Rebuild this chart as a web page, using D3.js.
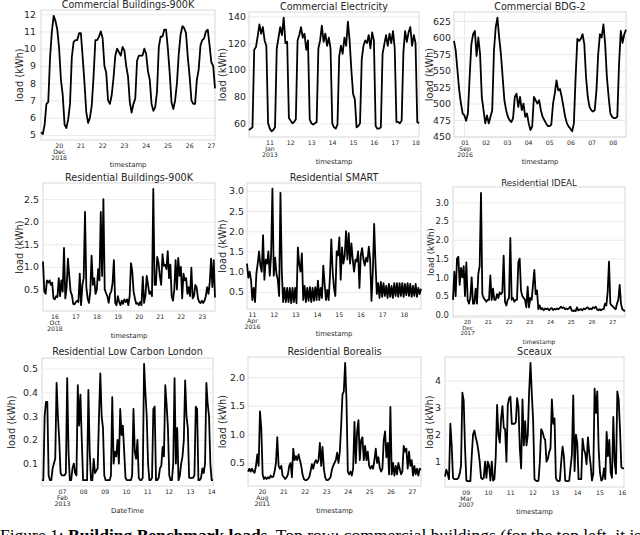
<!DOCTYPE html>
<html lang="en">
<head>
    <meta charset="UTF-8">
    <title>Building loads</title>
    <style>
        body { margin: 0; background: #fff; }
        svg { display: block; font-family: 'DejaVu Sans', sans-serif; }
    </style>
</head>
<body>
    <svg id="chart" width="640" height="535"></svg>

    <script src="https://d3js.org/d3.v7.min.js"></script>
    <script>
        // ---- data, evenly spaced between start and end ----
        const titles = ['Commercial Buildings-900K', 'Commercial Electricity', 'Commercial BDG-2',
                        'Residential Buildings-900K', 'Residential SMART', 'Residential IDEAL',
                        'Residential Low Carbon London', 'Residential Borealis', 'Sceaux'];
        const xLabels = ['timestamp', 'timestamp', 'timestamp', 'timestamp', 'timestamp', 'timestamp',
                         'DateTime', 'timestamp', 'timestamp'];
        const starts = ['2018-12-19T04:30Z', '2013-01-10T00:30Z', '2016-08-31T12:00Z',
                        '2018-10-15T11:00Z', '2016-04-10T18:30Z', '2017-12-19T07:40Z',
                        '2013-02-06T01:30Z', '2011-08-19T08:30Z', '2007-03-08T01:45Z'];
        const ends = ['2018-12-27T04:30Z', '2013-01-18T04:00Z', '2016-09-08T15:00Z',
                      '2018-10-23T15:00Z', '2016-04-18T19:00Z', '2017-12-27T14:50Z',
                      '2013-02-14T02:00Z', '2011-08-27T10:00Z', '2007-03-16T02:30Z'];
        const yTicks = [
            [5, 6, 7, 8, 9, 10, 11, 12],
            [60, 80, 100, 120, 140],
            [450, 475, 500, 525, 550, 575, 600, 625],
            [0.5, 1.0, 1.5, 2.0, 2.5],
            [0.5, 1.0, 1.5, 2.0, 2.5, 3.0],
            [0.0, 0.5, 1.0, 1.5, 2.0, 2.5, 3.0],
            [0.1, 0.2, 0.3, 0.4, 0.5],
            [0.5, 1.0, 1.5, 2.0],
            [1, 2, 3, 4]
        ];
        const yFormats = ['d', 'd', 'd', '.1f', '.1f', '.1f', '.1f', '.1f', 'd'];

        const comBuildings = [5.15, 5.05, 5.6, 6.8, 6.9, 9.5, 11.0, 11.9, 11.6, 11.1, 10.0, 8.2, 7.3, 5.6, 5.4, 5.9,
            6.8, 9.5, 10.4, 10.5, 10.5, 10.9, 10.9, 9.5, 8.0, 6.3, 5.7, 6.0, 6.7, 8.4, 10.5, 10.5, 10.7, 11.0,
            10.6, 9.0, 8.6, 7.0, 6.8, 7.3, 8.3, 9.6, 10.0, 9.8, 9.6, 10.1, 9.9, 9.0, 8.4, 6.9, 6.3, 6.8, 7.1,
            9.3, 9.6, 9.6, 9.6, 10.0, 9.7, 8.7, 8.2, 6.8, 6.4, 6.6, 7.5, 10.1, 10.7, 10.7, 11.1, 11.1, 10.0,
            8.6, 6.9, 6.5, 7.0, 8.0, 9.7, 10.8, 11.3, 11.2, 10.9, 9.5, 8.4, 7.0, 6.8, 6.8, 8.2, 8.8, 10.2,
            10.5, 10.6, 11.0, 11.1, 10.2, 9.2, 9.0, 7.7];
        const comElectricity = [55, 56, 57, 115, 117, 125, 134, 127, 132, 122, 118, 60, 56, 54, 55, 57,
            116, 124, 132, 126, 139, 120, 121, 64, 62, 60, 61, 63, 122, 126, 132, 124, 127, 115, 122, 63,
            60, 59, 60, 61, 116, 122, 133, 121, 127, 118, 124, 116, 60, 57, 56, 59, 110, 118, 112, 124, 118,
            136, 122, 100, 82, 78, 57, 58, 60, 108, 118, 122, 120, 126, 116, 128, 122, 58, 56, 56, 57, 112,
            119, 126, 118, 127, 120, 129, 116, 61, 61, 60, 62, 113, 129, 121, 128, 132, 118, 126, 120, 61, 60];
        const comBdg2 = [595, 580, 550, 520, 500, 485, 482, 474, 485, 540, 590, 605, 610, 572, 600, 575,
            510, 490, 470, 482, 470, 480, 490, 580, 615, 630, 600, 575, 540, 505, 490, 480, 475, 472, 478,
            510, 515, 495, 510, 490, 500, 480, 485, 470, 460, 465, 510, 505, 500, 505, 490, 480, 475, 470,
            466, 466, 468, 500, 515, 535, 520, 522, 510, 495, 480, 470, 465, 462, 458, 470, 540, 598, 595,
            598, 605, 590, 540, 510, 495, 490, 488, 490, 520, 575, 605, 600, 620, 590, 540, 510, 485, 480,
            478, 478, 480, 560, 610, 592, 605, 612];
        const resBuildings = [1.12, 0.45, 0.40, 0.70, 0.65, 0.70, 0.60, 0.65, 0.30, 0.28, 0.35, 0.33, 0.75,
            0.35, 0.70, 0.45, 1.42, 0.30, 0.55, 1.18, 0.80, 0.45, 0.38, 0.18, 0.17, 0.22, 0.25, 0.22, 0.85,
            0.15, 0.60, 0.75, 2.22, 0.55, 0.30, 0.20, 0.45, 1.25, 0.60, 0.75, 0.40, 0.50, 0.95, 0.70, 2.22,
            0.80, 2.50, 0.50, 0.42, 0.35, 0.20, 0.40, 0.45, 0.65, 1.15, 0.20, 0.15, 0.35, 0.22, 0.15, 0.25,
            0.18, 0.28, 0.22, 0.28, 0.15, 0.35, 1.08, 0.90, 0.45, 0.30, 0.18, 0.20, 0.15, 0.22, 0.15, 0.78,
            0.20, 0.35, 0.80, 0.60, 0.40, 0.45, 0.35, 2.73, 0.60, 0.60, 1.22, 1.08, 0.80, 0.60, 1.28, 1.02,
            1.05, 0.95, 1.35, 0.75, 1.05, 0.35, 0.25, 0.50, 1.15, 0.50, 1.20, 0.80, 1.00, 0.30, 0.85, 0.70,
            0.75, 0.40, 0.55, 0.35, 0.98, 0.30, 0.35, 0.60, 0.55, 0.30, 0.22, 0.20, 0.25, 0.20, 0.25, 0.35,
            0.55, 0.40, 0.65, 1.18, 0.55, 1.15, 0.32];
        const resSmart = [1.20, 0.85, 1.00, 0.80, 0.30, 0.60, 0.25, 0.95, 1.20, 1.50, 1.15, 1.00, 1.90, 0.80,
            1.30, 1.20, 1.50, 0.90, 1.40, 3.05, 0.90, 1.35, 0.95, 0.80, 0.40, 2.95, 1.00, 0.25, 0.60, 0.25,
            0.60, 0.25, 0.60, 0.22, 0.60, 0.25, 0.60, 0.22, 1.60, 1.20, 1.00, 1.45, 0.30, 0.65, 0.25, 0.60,
            0.28, 0.62, 0.25, 0.60, 0.28, 0.62, 0.30, 0.78, 0.30, 0.60, 0.35, 1.15, 0.70, 0.30, 0.55, 0.30,
            0.90, 1.80, 1.00, 0.60, 0.40, 1.50, 1.40, 1.85, 0.80, 1.60, 1.20, 1.40, 2.00, 1.30, 1.95, 1.20,
            1.70, 1.30, 1.00, 1.30, 1.25, 1.50, 0.60, 1.40, 1.58, 1.30, 1.15, 1.35, 1.25, 1.62, 1.30, 0.28,
            1.00, 2.18, 1.20, 0.45, 0.72, 0.35, 0.75, 0.38, 0.72, 0.40, 0.65, 0.35, 0.70, 0.38, 0.65, 0.35,
            0.72, 0.40, 0.72, 0.38, 0.72, 0.40, 0.72, 0.38, 0.70, 0.42, 0.72, 0.40, 0.70, 0.38, 0.65, 0.40,
            0.70, 0.38, 0.60, 0.45, 0.58];
        const resIdeal = [0.40, 1.15, 0.50, 1.50, 1.55, 0.80, 1.25, 1.00, 1.30, 0.50, 1.40, 0.40, 0.30, 0.45,
            1.00, 0.30, 0.30, 0.70, 0.30, 1.10, 1.30, 3.25, 0.55, 0.45, 0.40, 0.35, 0.40, 0.40, 1.05, 0.40,
            0.70, 0.40, 0.40, 0.55, 0.45, 0.60, 0.55, 0.60, 1.58, 0.35, 0.25, 0.40, 0.45, 2.05, 0.40, 0.45,
            0.35, 0.40, 0.40, 1.40, 1.50, 0.65, 0.50, 0.45, 0.40, 0.20, 0.75, 0.20, 0.45, 0.40, 0.80, 1.20,
            0.55, 0.65, 0.15, 0.25, 0.15, 0.18, 0.12, 0.17, 0.15, 0.17, 0.12, 0.16, 0.18, 0.13, 0.16, 0.14,
            0.17, 0.15, 0.18, 0.22, 0.18, 0.20, 0.15, 0.17, 0.15, 0.18, 0.22, 0.12, 0.10, 0.12, 0.10, 0.20,
            0.12, 0.14, 0.15, 0.12, 0.17, 0.15, 0.18, 0.20, 0.15, 0.17, 0.15, 0.20, 0.18, 0.22, 0.15, 0.12,
            0.15, 0.12, 0.15, 0.15, 0.30, 0.25, 0.60, 1.42, 0.30, 0.25, 0.22, 0.18, 0.15, 0.30, 0.40, 0.80,
            0.30, 0.15, 0.12, 0.10];
        const resLcl = [0.03, 0.03, 0.30, 0.36, 0.36, 0.05, 0.03, 0.03, 0.08, 0.10, 0.12, 0.44, 0.30, 0.20,
            0.06, 0.05, 0.05, 0.05, 0.06, 0.46, 0.15, 0.03, 0.03, 0.08, 0.10, 0.06, 0.05, 0.43, 0.26, 0.39,
            0.20, 0.03, 0.03, 0.03, 0.03, 0.41, 0.15, 0.03, 0.03, 0.12, 0.06, 0.07, 0.08, 0.30, 0.48, 0.30,
            0.25, 0.05, 0.03, 0.03, 0.03, 0.03, 0.05, 0.38, 0.10, 0.15, 0.13, 0.20, 0.10, 0.33, 0.22, 0.26,
            0.15, 0.04, 0.03, 0.03, 0.03, 0.03, 0.05, 0.33, 0.15, 0.12, 0.20, 0.04, 0.03, 0.03, 0.04, 0.52,
            0.40, 0.30, 0.10, 0.03, 0.03, 0.04, 0.33, 0.34, 0.03, 0.03, 0.04, 0.08, 0.09, 0.17, 0.13, 0.43,
            0.35, 0.25, 0.05, 0.03, 0.03, 0.10, 0.46, 0.10, 0.25, 0.03, 0.05, 0.10, 0.13, 0.20, 0.45, 0.30,
            0.25, 0.04, 0.04, 0.04, 0.04, 0.05, 0.34, 0.33, 0.03, 0.03, 0.04, 0.08, 0.06, 0.10, 0.44, 0.35,
            0.30, 0.10, 0.03, 0.03];
        const resBorealis = [0.35, 0.40, 0.35, 0.40, 0.35, 0.33, 0.45, 0.65, 0.45, 1.40, 1.10, 0.30, 0.22,
            0.25, 0.22, 0.25, 0.23, 0.28, 0.25, 0.26, 0.35, 0.50, 0.95, 0.45, 0.40, 0.45, 0.28, 0.25, 0.22,
            0.25, 0.30, 0.45, 0.50, 0.25, 0.75, 0.55, 0.62, 0.55, 0.65, 0.55, 0.45, 0.30, 0.22, 0.20, 0.20,
            0.22, 0.25, 0.35, 0.48, 0.40, 0.50, 0.55, 0.50, 0.55, 0.85, 0.45, 0.78, 0.40, 0.25, 0.20, 0.20,
            0.22, 0.25, 0.38, 0.45, 0.50, 0.55, 0.68, 0.50, 0.70, 1.15, 1.70, 1.75, 2.25, 1.60, 0.35, 0.30,
            0.35, 0.28, 0.40, 1.22, 0.50, 1.05, 1.25, 0.55, 0.90, 0.95, 0.55, 0.80, 0.55, 0.70, 0.45, 0.40,
            0.45, 0.40, 0.55, 0.75, 0.50, 0.60, 0.42, 0.35, 0.40, 0.90, 1.05, 0.60, 0.85, 0.30, 1.48, 0.30,
            0.50, 0.28, 0.45, 0.30, 0.50, 0.40, 0.30, 0.35, 0.80, 0.70, 0.75, 0.40, 0.70, 0.45, 0.55, 0.28,
            0.45, 0.30, 0.40, 0.28, 0.40, 0.38];
        const sceaux = [0.45, 0.70, 0.55, 0.35, 2.40, 1.60, 0.40, 0.35, 0.35, 0.35, 0.40, 0.55, 0.85, 3.55,
            3.25, 1.50, 0.30, 0.28, 0.28, 0.28, 1.20, 2.00, 2.15, 1.90, 1.70, 1.40, 1.00, 0.40, 0.35, 0.40,
            1.00, 0.40, 1.00, 0.85, 0.30, 1.00, 0.30, 0.35, 1.20, 3.10, 2.00, 1.70, 2.60, 3.05, 2.25, 2.20,
            1.00, 3.10, 3.35, 3.40, 2.40, 2.40, 2.40, 2.45, 3.35, 3.00, 1.50, 0.75, 3.30, 1.60, 2.50, 1.60,
            2.00, 3.60, 4.65, 3.50, 2.50, 0.35, 0.30, 0.28, 0.30, 1.00, 2.20, 2.10, 1.90, 1.80, 1.00, 1.10,
            1.35, 1.50, 3.30, 2.40, 2.60, 0.40, 0.30, 0.28, 0.30, 1.00, 1.55, 1.20, 0.30, 0.28, 0.28, 0.30,
            0.80, 1.25, 3.45, 0.65, 2.00, 1.70, 0.35, 0.35, 0.35, 1.85, 1.45, 1.30, 0.90, 1.90, 1.30, 0.90,
            0.30, 0.55, 3.70, 2.80, 3.60, 1.50, 0.60, 0.30, 0.35, 0.75, 0.35, 2.10, 1.20, 1.80, 0.60, 0.40,
            2.65, 1.00, 0.55, 3.60, 3.30, 2.20, 0.80, 0.75, 0.75];
        const series = [comBuildings, comElectricity, comBdg2, resBuildings, resSmart, resIdeal,
                        resLcl, resBorealis, sceaux];

        // ---- layout (pixel boxes of each subplot) ----
        const boxes = [
            { x0: 41,  x1: 215, y0: 10,  y1: 140, titleY: 8,     ylabX: 20,  tickPad: 5, fs: 1 },
            { x0: 249, x1: 419, y0: 12,  y1: 137, titleY: 10,    ylabX: 223, tickPad: 3, fs: 1 },
            { x0: 454, x1: 626, y0: 12,  y1: 137, titleY: 9.5,   ylabX: 430, tickPad: 3, fs: 1 },
            { x0: 43,  x1: 215, y0: 183, y1: 311, titleY: 180.5, ylabX: 20,  tickPad: 4, fs: 1 },
            { x0: 247, x1: 421, y0: 183, y1: 309, titleY: 180.5, ylabX: 223, tickPad: 3, fs: 1 },
            { x0: 453, x1: 625, y0: 187, y1: 317, titleY: 185.5, ylabX: 431, tickPad: 4, fs: 0.9 },
            { x0: 42,  x1: 213, y0: 358, y1: 486, titleY: 355,   ylabX: 12,  tickPad: 4, fs: 1 },
            { x0: 248, x1: 421, y0: 357, y1: 486, titleY: 355,   ylabX: 223, tickPad: 3, fs: 1 },
            { x0: 445, x1: 624, y0: 357, y1: 487, titleY: 355,   ylabX: 430, tickPad: 4, fs: 1 }
        ];

        const svg = d3.select('#chart');
        const ink = '#262626';
        const gridColor = '#e4e4e4';
        const fmtDay = d3.utcFormat('%d');
        const fmtMon = d3.utcFormat('%b');
        const fmtYear = d3.utcFormat('%Y');

        function drawPanel(k) {
            const b = boxes[k];
            const values = series[k];
            const start = new Date(starts[k]);
            const end = new Date(ends[k]);
            const step = (end - start) / (values.length - 1);
            const time = i => new Date(+start + i * step);

            const x = d3.scaleUtc().domain([start, end]).range([b.x0, b.x1]);
            const [lo, hi] = d3.extent(values);
            const pad = (hi - lo) * 0.05;
            const y = d3.scaleLinear().domain([lo - pad, hi + pad]).range([b.y1, b.y0]);

            const g = svg.append('g');

            // horizontal grid + y tick labels
            g.append('g')
                .attr('transform', `translate(${b.x0},0)`)
                .call(d3.axisLeft(y).tickValues(yTicks[k]).tickFormat(d3.format(yFormats[k]))
                    .tickSize(-(b.x1 - b.x0)).tickPadding(b.tickPad))
                .call(a => a.select('.domain').remove())
                .call(a => a.selectAll('line').attr('stroke', gridColor).attr('stroke-width', 0.8))
                .call(a => a.selectAll('text').attr('fill', ink)
                    .style('font-size', (9.4 * b.fs) + 'px').style('font-family', 'DejaVu Sans'));

            // x ticks: one per day, the first one also carries month and year
            const days = d3.utcDay.range(d3.utcDay.ceil(start), +end + 1);

            // pandas draws a vertical grid line at month starts (major ticks)
            g.selectAll('.vgrid')
                .data(days.filter(d => d.getUTCDate() === 1))
                .enter().append('line')
                .attr('x1', d => x(d)).attr('x2', d => x(d))
                .attr('y1', b.y0).attr('y2', b.y1)
                .attr('stroke', gridColor).attr('stroke-width', 0.8);

            const xAxis = g.append('g')
                .attr('transform', `translate(0,${b.y1})`)
                .call(d3.axisBottom(x).tickValues(days).tickFormat(fmtDay).tickSize(0).tickPadding(3.5))
                .call(a => a.select('.domain').remove());
            xAxis.selectAll('text')
                .attr('fill', ink)
                .style('font-size', (6.2 * b.fs) + 'px')
                .style('font-family', 'DejaVu Sans');
            xAxis.selectAll('.tick text').filter((d, i) => i === 0).each(function (d) {
                const t = d3.select(this).text(null);
                t.append('tspan').attr('x', 0).text(fmtDay(d));
                t.append('tspan').attr('x', 0).attr('dy', '0.98em').text(fmtMon(d));
                t.append('tspan').attr('x', 0).attr('dy', '0.98em').text(fmtYear(d));
            });

            // frame
            g.append('rect')
                .attr('x', b.x0).attr('y', b.y0)
                .attr('width', b.x1 - b.x0).attr('height', b.y1 - b.y0)
                .attr('fill', 'none').attr('stroke', '#d8d8d8').attr('stroke-width', 1);

            // series
            const line = d3.line()
                .x((d, i) => x(time(i)))
                .y(d => y(d));
            g.append('path')
                .datum(values)
                .attr('d', line)
                .attr('fill', 'none')
                .attr('stroke', '#000')
                .attr('stroke-width', 1.8)
                .attr('stroke-linejoin', 'round');

            // title and axis labels
            g.append('text')
                .attr('x', (b.x0 + b.x1) / 2).attr('y', b.titleY)
                .attr('text-anchor', 'middle')
                .attr('fill', ink)
                .style('font-size', (9.6 * b.fs) + 'px')
                .text(titles[k]);

            g.append('text')
                .attr('x', (b.x0 + b.x1) / 2).attr('y', b.y1 + 26.5)
                .attr('text-anchor', 'middle')
                .attr('fill', ink)
                .style('font-size', (6.8 * b.fs) + 'px')
                .text(xLabels[k]);

            g.append('text')
                .attr('transform', `translate(${b.ylabX},${(b.y0 + b.y1) / 2}) rotate(-90)`)
                .attr('text-anchor', 'middle')
                .attr('dy', '0.35em')
                .attr('fill', ink)
                .style('font-size', (9.8 * b.fs) + 'px')
                .text('load (kWh)');
        }

        d3.range(series.length).forEach(drawPanel);

        // caption, cut by the bottom edge of the crop as in the source figure
        const cap = svg.append('text')
            .attr('x', 0).attr('y', 541)
            .style('font-family', "'Liberation Serif', serif")
            .style('font-size', '17.5px')
            .attr('fill', '#000');
        cap.append('tspan').text('Figure 1: ');
        cap.append('tspan').style('font-weight', 'bold').text('Building Benchmark loads.');
        cap.append('tspan').text(' Top row: commercial buildings (for the top left, it is plotted');
    </script>
</body>
</html>
